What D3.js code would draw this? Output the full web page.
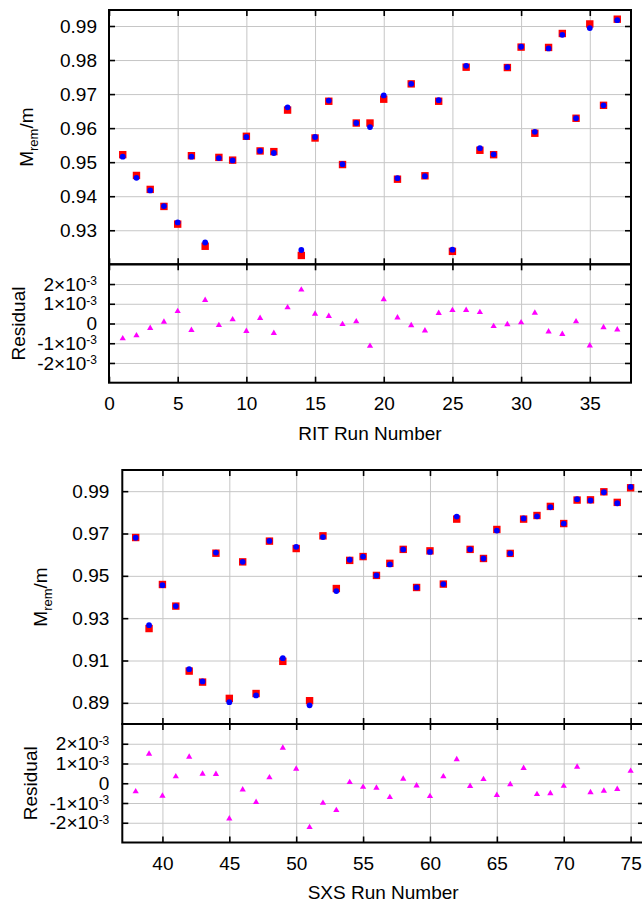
<!DOCTYPE html>
<html>
<head>
<meta charset="utf-8">
<script src="https://cdn.jsdelivr.net/npm/d3@7"></script>
<style>
  body { margin: 0; background: #fff; }
  svg { display: block; font-family: "Liberation Sans", Arial, Helvetica, sans-serif; }
  .grid line { stroke: #c6c6c6; stroke-width: 1; }
  .grid .domain, .frame .domain { display: none; }
  .frame line { stroke: #000; stroke-width: 1.6; }
</style>
</head>
<body>
<script>
// ---- RIT runs (top panel) ----
const ritRuns = d3.range(1, 38);
const ritMeasured = [
  0.9522, 0.9461, 0.9420, 0.9370, 0.9318, 0.9519, 0.9253, 0.9514, 0.9506, 0.9576,
  0.9533, 0.9531, 0.9653, 0.9226, 0.9571, 0.9679, 0.9493, 0.9615, 0.9615, 0.9685,
  0.9450, 0.9730, 0.9460, 0.9679, 0.9238, 0.9779, 0.9535, 0.9522, 0.9778, 0.9838,
  0.9585, 0.9837, 0.9878, 0.9629, 0.9906, 0.9667, 0.9920
];
const ritFit = [
  0.9516, 0.9454, 0.9417, 0.9371, 0.9323, 0.9516, 0.9264, 0.9512, 0.9505, 0.9574,
  0.9533, 0.9527, 0.9661, 0.9242, 0.9574, 0.9681, 0.9494, 0.9615, 0.9603, 0.9696,
  0.9453, 0.9730, 0.9459, 0.9682, 0.9243, 0.9783, 0.9541, 0.9523, 0.9779, 0.9839,
  0.9589, 0.9834, 0.9874, 0.9629, 0.9894, 0.9667, 0.9917
];
// residuals in units of 1e-3
const ritResidual = [
  -0.76, -0.61, -0.24, 0.08, 0.62, -0.34, 1.18, -0.09, 0.20, -0.39,
  0.27, -0.49, 0.81, 1.71, 0.49, 0.37, -0.04, 0.10, -1.14, 1.22,
  0.30, -0.10, -0.36, 0.52, 0.67, 0.68, 0.57, -0.14, -0.05, 0.05,
  0.54, -0.41, -0.54, 0.10, -1.12, -0.20, -0.31
];

// ---- SXS runs (bottom panel) ----
const sxsRuns = d3.range(38, 76);
const sxsMeasured = [
  0.9681, 0.9251, 0.9459, 0.9357, 0.9050, 0.8998, 0.9607, 0.8921, 0.9566, 0.8944,
  0.9664, 0.9096, 0.9629, 0.8910, 0.9689, 0.9440, 0.9573, 0.9591, 0.9502, 0.9559,
  0.9625, 0.9445, 0.9618, 0.9461, 0.9768, 0.9625, 0.9582, 0.9719, 0.9606, 0.9768,
  0.9785, 0.9828, 0.9747, 0.9858, 0.9859, 0.9897, 0.9847, 0.9916
];
const sxsFit = [
  0.9680, 0.9267, 0.9456, 0.9357, 0.9059, 0.9001, 0.9610, 0.8903, 0.9566, 0.8935,
  0.9665, 0.9111, 0.9637, 0.8888, 0.9683, 0.9428, 0.9576, 0.9591, 0.9502, 0.9554,
  0.9625, 0.9445, 0.9613, 0.9461, 0.9780, 0.9625, 0.9582, 0.9714, 0.9606, 0.9771,
  0.9781, 0.9824, 0.9747, 0.9862, 0.9856, 0.9895, 0.9843, 0.9920
];
const sxsResidual = [
  -0.42, 1.49, -0.64, 0.34, 1.33, 0.47, 0.46, -1.79, -0.32, -0.96,
  0.29, 1.79, 0.73, -2.23, -1.00, -1.37, 0.05, -0.19, -0.24, -0.71,
  0.22, -0.12, -0.66, 0.34, 1.21, -0.15, 0.20, -0.60, -0.06, 0.76,
  -0.56, -0.51, -0.14, 0.83, -0.46, -0.39, -0.30, 0.62
];

// ---- tick values ----
const ritXTicks = [0, 5, 10, 15, 20, 25, 30, 35];
const ritYTicks = [0.93, 0.94, 0.95, 0.96, 0.97, 0.98, 0.99];
const sxsXTicks = [40, 45, 50, 55, 60, 65, 70, 75];
const sxsYTicks = [0.89, 0.91, 0.93, 0.95, 0.97, 0.99];
const residTicks = [-2, -1, 0, 1, 2];

const W = 642, H = 905;
const svg = d3.select("body").append("svg").attr("width", W).attr("height", H);

const panels = [
  {
    runs: ritRuns, measured: ritMeasured, fit: ritFit, resid: ritResidual,
    xDomain: [0, 38], xTicks: ritXTicks, yDomain: [0.92, 0.9947], yTicks: ritYTicks,
    left: 109, right: 631, top: 10, mid: 264.3, bottom: 382.7,
    xTitle: "RIT Run Number", xTitleY: 440, yTitleX: 33, resTitleX: 25, labelPad: 12
  },
  {
    runs: sxsRuns, measured: sxsMeasured, fit: sxsFit, resid: sxsResidual,
    xDomain: [37, 76], xTicks: sxsXTicks, yDomain: [0.88, 1.0], yTicks: sxsYTicks,
    left: 122.3, right: 644, top: 470, mid: 724, bottom: 842.5,
    xTitle: "SXS Run Number", xTitleY: 899, yTitleX: 47, resTitleX: 37, labelPad: 13
  }
];

const FS = 19;

function styleText(sel) {
  sel.selectAll("text").attr("font-size", FS).attr("fill", "#000")
    .attr("font-family", '"Liberation Sans", Arial, Helvetica, sans-serif');
}

function drawPanel(p) {
  const x = d3.scaleLinear(p.xDomain, [p.left, p.right]);
  const y = d3.scaleLinear(p.yDomain, [p.mid, p.top]);
  const r = d3.scaleLinear([-3, 3], [p.bottom, p.mid]);
  const g = svg.append("g");
  const w = p.right - p.left;

  const parts = [
    { ys: y, t: p.top, b: p.mid, ticks: p.yTicks, fmt: d3.format(".2f"), xLabels: false },
    { ys: r, t: p.mid, b: p.bottom, ticks: residTicks, fmt: d => d === 0 ? "0" : d + "\u00d710", xLabels: true }
  ];

  // grid
  parts.forEach(s => {
    g.append("g").attr("class", "grid").attr("transform", `translate(0,${s.b})`)
      .call(d3.axisBottom(x).tickValues(p.xTicks).tickSize(-(s.b - s.t)).tickFormat(""));
    g.append("g").attr("class", "grid").attr("transform", `translate(${p.left},0)`)
      .call(d3.axisLeft(s.ys).tickValues(s.ticks).tickSize(-w).tickFormat(""));
  });

  // inward ticks and labels
  parts.forEach((s, i) => {
    g.append("g").attr("class", "frame").attr("transform", `translate(0,${s.t})`)
      .call(d3.axisTop(x).tickValues(p.xTicks).tickSize(-6).tickFormat(""));
    const bx = g.append("g").attr("class", "frame").attr("transform", `translate(0,${s.b})`)
      .call(d3.axisBottom(x).tickValues(p.xTicks).tickSize(-6).tickPadding(14)
        .tickFormat(s.xLabels ? d3.format("d") : ""));
    styleText(bx);
    const ly = g.append("g").attr("class", "frame").attr("transform", `translate(${p.left},0)`)
      .call(d3.axisLeft(s.ys).tickValues(s.ticks).tickSize(-6).tickPadding(p.labelPad).tickFormat(s.fmt));
    styleText(ly);
    if (i === 1) {
      // superscript exponent on the residual labels
      ly.selectAll("text").each(function(d) {
        if (d !== 0) d3.select(this).append("tspan").attr("dy", "-0.45em").attr("font-size", 12).text("-3");
      });
    }
    g.append("g").attr("class", "frame").attr("transform", `translate(${p.right},0)`)
      .call(d3.axisRight(s.ys).tickValues(s.ticks).tickSize(-6).tickFormat(""));
  });

  // frames
  parts.forEach(s => {
    g.append("rect").attr("x", p.left).attr("y", s.t).attr("width", w).attr("height", s.b - s.t)
      .attr("fill", "none").attr("stroke", "#000").attr("stroke-width", 2);
  });

  // measured (red squares) then fit (blue circles)
  const sq = 7.4;
  g.append("g").selectAll("rect").data(p.runs).join("rect")
    .attr("x", d => x(d) - sq / 2).attr("y", (d, i) => y(p.measured[i]) - sq / 2)
    .attr("width", sq).attr("height", sq).attr("fill", "#ff0000");
  g.append("g").selectAll("circle").data(p.runs).join("circle")
    .attr("cx", d => x(d)).attr("cy", (d, i) => y(p.fit[i])).attr("r", 2.9).attr("fill", "#0000ff");

  // residual triangles
  const tri = d3.symbol(d3.symbolTriangle, 17);
  g.append("g").selectAll("path").data(p.runs).join("path")
    .attr("d", tri).attr("fill", "#ff00ff")
    .attr("transform", (d, i) => `translate(${x(d)},${r(p.resid[i])})`);

  // titles
  const yt = g.append("text").attr("font-size", FS).attr("text-anchor", "middle")
    .attr("transform", `translate(${p.yTitleX},${(p.top + p.mid) / 2}) rotate(-90)`);
  yt.append("tspan").text("M");
  yt.append("tspan").attr("font-size", 13).attr("dy", 5).text("rem");
  yt.append("tspan").attr("dy", -5).text("/m");

  g.append("text").attr("font-size", FS).attr("text-anchor", "middle")
    .attr("transform", `translate(${p.resTitleX},${(p.mid + p.bottom) / 2}) rotate(-90)`)
    .text("Residual");

  g.append("text").attr("font-size", FS).attr("text-anchor", "middle")
    .attr("x", (p.left + Math.min(p.right, 644)) / 2).attr("y", p.xTitleY)
    .text(p.xTitle);
}

panels.forEach(drawPanel);
</script>
</body>
</html>
